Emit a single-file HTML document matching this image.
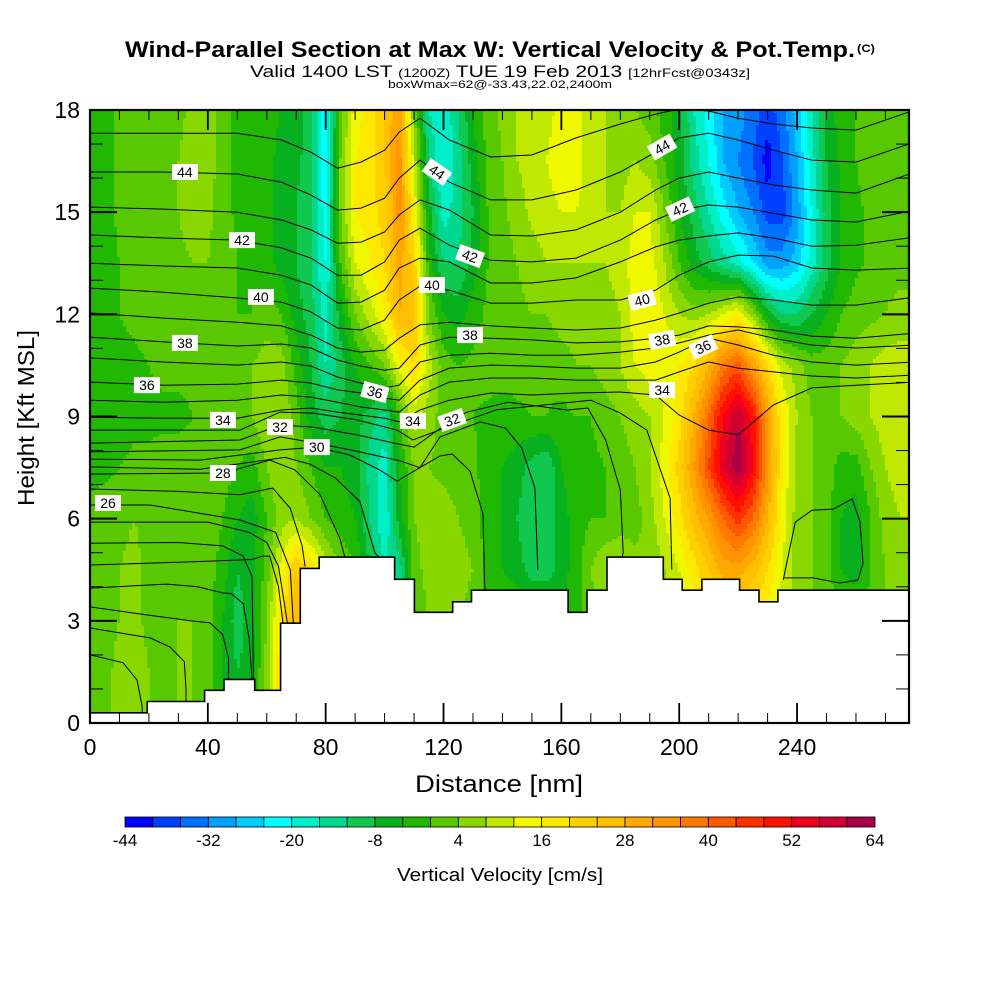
<!DOCTYPE html>
<html><head><meta charset="utf-8"><title>Wind-Parallel Section</title>
<style>html,body{margin:0;padding:0;background:#fff}svg{display:block}
text{font-family:"Liberation Sans",sans-serif}</style></head>
<body>
<svg id="chart" xmlns="http://www.w3.org/2000/svg" width="1000" height="1000" viewBox="0 0 1000 1000">
<rect x="0" y="0" width="1000" height="1000" fill="#fff"/>
<defs><clipPath id="plotclip"><rect x="90" y="110" width="819" height="613"/></clipPath></defs>
<g id="title-block">
<text x="125" y="57" font-size="22" font-weight="bold" textLength="730" lengthAdjust="spacingAndGlyphs">Wind-Parallel Section at Max W: Vertical Velocity &amp; Pot.Temp.</text>
<text x="857" y="52" font-size="11" font-weight="bold" textLength="18" lengthAdjust="spacingAndGlyphs">(C)</text>
<text x="250" y="77" font-size="17" textLength="500" lengthAdjust="spacingAndGlyphs">Valid 1400 LST <tspan font-size="12">(1200Z)</tspan> TUE 19 Feb 2013 <tspan font-size="12">[12hrFcst@0343z]</tspan></text>
<text x="388" y="88" font-size="11" textLength="224" lengthAdjust="spacingAndGlyphs">boxWmax=62@-33.43,22.02,2400m</text>
</g>
<g id="field" clip-path="url(#plotclip)"></g>
<g id="contours" clip-path="url(#plotclip)"></g>
<g id="terrain"></g>
<g id="clabels"></g>
<g id="axes"></g>
<g id="colorbar"></g>
<text x="499" y="792" font-size="24" text-anchor="middle" textLength="168" lengthAdjust="spacingAndGlyphs">Distance [nm]</text>
<text x="0" y="0" font-size="23" text-anchor="middle" transform="translate(34,418) rotate(-90)" textLength="176" lengthAdjust="spacingAndGlyphs">Height [Kft MSL]</text>
<text x="500" y="881" font-size="18" text-anchor="middle" textLength="206" lengthAdjust="spacingAndGlyphs">Vertical Velocity [cm/s]</text>
</svg>
<script>
// ---- data ----
const colNm = [0,5,10,15,20,25,30,35,40,45,50,55,60,65,70,75,80,85,90,95,100,105,110,115,120,125,130,135,140,145,150,155,160,165,170,175,180,185,190,195,200,205,210,215,220,225,230,235,240,245,250,255,260,265,270,275,280];
const rowKft = [0,1.5,3,4.5,6,7.5,9,10.5,12,13.5,15,16.5,18];
const w0 = [2,3,5,6,4, 3,4,4,2,-4, -8,-6,6,20,24, 20,10,4,0,-4, -8,-10,0,4,6, 4,2,0,0,0, 0,-2,-4,-2,2, 6,6,4,4,6, 10,14,18,20,20, 18,14,10,6,4, 2,0,0,2,4, 4,4];
const w1p5 = [2,3,5,6,4, 3,4,4,2,-4, -8,-6,6,20,24, 20,10,4,0,-4, -8,-10,0,4,6, 4,2,0,0,0, 0,-2,-4,-2,2, 6,6,4,4,6, 10,14,18,20,20, 18,14,10,6,4, 2,0,0,2,4, 4,4];
const w3 = [2,3,4,5,3, 3,4,4,2,-4, -10,-6,4,20,28, 20,10,4,0,-4, -8,-10,0,4,6, 4,2,0,0,0, 0,-2,-4,-2,2, 6,6,4,4,6, 10,14,18,20,20, 18,14,10,6,4, 2,0,0,2,4, 4,4];
const w4p5 = [2,3,4,5,3, 2,3,4,2,-2, -8,-6,2,14,24, 20,10,4,0,-8, -16,-14,2,6,8, 6,4,-2,-4,-6, -10,-10,-6,-2,4, 8,8,6,4,8, 12,18,24,30,30, 26,20,12,6,4, 2,-4,-6,0,4, 6,6];
const w6 = [1,2,3,4,3, 2,2,3,3,0, -4,-6,0,6,8, 4,0,-2,-4,-12, -20,-6,4,6,6, 4,2,-2,-4,-8, -12,-12,-6,-2,0, 0,2,2,6,12, 18,26,32,40,46, 40,28,14,6,4, 2,-4,-6,0,6, 8,8];
const w7p5 = [-1,-1,0,1,1, 2,2,2,1,2, 0,-2,4,8,4, 0,-4,-4,-6,-14, -18,-4,4,4,3, 2,1,-2,-4,-6, -10,-12,-4,-2,-1, 0,2,4,8,14, 22,32,44,56,63, 52,34,16,6,4, 2,-2,-2,4,8, 10,10];
const w9 = [-2,-2,-2,-1,-1, -1,-1,0,1,2, 3,4,8,8,2, -6,-10,-8,-6,-10, -14,0,10,6,2, 1,0,-1,-2,-1, 0,0,-1,0,0, 2,4,6,8,12, 18,28,40,52,60, 50,32,16,8,4, 4,4,6,8,10, 10,10];
const w10p5 = [-2,-2,-1,-1,0, 1,1,1,1,2, 2,4,6,6,-2, -8,-16,-10,-4,0, 4,14,20,10,2, 0,1,2,2,2, 2,1,2,4,4, 6,8,12,14,14, 16,20,28,38,42, 32,20,10,6,2, 2,4,6,8,10, 10,10];
const w12 = [-2,-2,0,1,2, 2,3,3,3,2, 0,0,2,0,-6, -10,-18,-6,4,10, 16,28,26,4,-4, -6,-2,1,2,3, 4,4,6,6,6, 6,8,14,16,12, 8,6,8,12,16, 6,-6,-12,-12,-8, -4,0,2,3,4, 6,6];
const w13p5 = [-2,-2,0,1,2, 3,3,4,4,2, 0,-1,-2,-6,-8, -12,-20,0,12,16, 20,30,22,-2,-12, -12,-6,0,2,4, 6,8,8,8,8, 8,10,14,14,8, 0,-6,-10,-14,-18, -24,-30,-30,-26,-18, -10,-4,-1,1,2, 2,2];
const w15 = [-3,-2,1,2,2, 3,4,6,5,2, -1,-2,-3,-6,-8, -12,-22,4,16,18, 22,34,16,-6,-18, -14,-8,0,3,6, 9,10,12,12,10, 8,8,12,12,4, -4,-10,-16,-22,-28, -32,-38,-38,-30,-20, -10,-4,-1,1,2, 2,2];
const w16p5 = [-3,-2,1,2,2, 3,4,6,6,2, -1,-2,-3,-5,-7, -10,-24,4,16,18, 24,34,10,-12,-20, -14,-6,1,4,8, 10,12,15,14,10, 8,6,8,6,0, -6,-14,-20,-28,-32, -36,-42,-36,-28,-18, -8,-3,0,2,2, 2,2];
const w18 = [-2,-2,1,2,2, 2,3,5,6,2, -1,-2,-3,-4,-6, -10,-24,2,14,18, 24,32,4,-16,-20, -12,-4,2,5,8, 8,10,14,14,10, 8,6,4,2,-2, -6,-16,-22,-28,-30, -34,-38,-34,-26,-16, -6,-2,0,2,3, 3,3];
const wRows = [w0,w1p5,w3,w4p5,w6,w7p5,w9,w10p5,w12,w13p5,w15,w16p5,w18];

const levelColors = ['#0000ff','#0040ff','#0070ff','#00a0ff','#00ccff','#00ffff','#00eec8','#00d890','#10c850','#08b020','#20b800','#58c800','#88d800','#c0e800','#f0f800','#ffe800','#ffd000','#ffc000','#ffa800','#ff9400','#ff7800','#ff5800','#ff3000','#ff1000','#f00020','#d00030','#a80048'];
const cbTicks = [-44,-32,-20,-8,4,16,28,40,52,64];
const xTicks = [0,40,80,120,160,200,240];
const yTicks = [0,3,6,9,12,15,18];

const terrX0 = [0,19.4,38.9,45.5,55.9,64.7,71.4,77.8,103.4,110.1,123.1,129.5,162.3,168.7,175.5,194.6,201,207.7,220.5,227.1,233.5];
const terrX1 = [19.4,38.9,45.5,55.9,64.7,71.4,77.8,103.4,110.1,123.1,129.5,162.3,168.7,175.5,194.6,201,207.7,220.5,227.1,233.5,278];
const terrH = [0.3,0.63,0.96,1.28,0.96,2.93,4.54,4.87,4.22,3.25,3.56,3.9,3.25,3.9,4.87,4.22,3.9,4.22,3.9,3.56,3.9];

const thetaS = [0,25,50,65,75,84,92,100,105,112,122,136,150,165,180,192,200,210,220,232,245,260,280];
const th45 = [17.32,17.32,17.32,17.12,16.76,16.29,16.47,16.82,17.35,17.76,17.12,16.62,16.68,17.18,17.59,17.88,18.03,17.97,17.76,17.59,17.47,17.41,18.0];
const th44 = [16.18,16.18,16.12,15.88,15.5,15.06,15.12,15.41,16.0,16.53,15.88,15.36,15.36,15.65,16.18,16.76,17.18,17.32,17.12,16.82,16.53,16.47,17.06];
const th43 = [15.15,15.09,15.0,14.77,14.48,14.09,14.12,14.42,14.92,15.36,15.06,14.33,14.3,14.48,15.0,15.65,16.0,16.18,16.0,15.8,15.65,15.56,16.18];
const th42 = [14.33,14.24,14.18,13.95,13.65,13.15,13.15,13.54,14.18,14.53,14.03,13.59,13.54,13.65,14.18,14.77,15.06,15.21,15.15,14.97,14.77,14.71,15.06];
const th41 = [13.5,13.42,13.36,13.15,12.86,12.33,12.36,12.71,13.36,13.65,13.54,12.92,12.92,13.07,13.54,13.98,14.18,14.3,14.39,14.24,14.0,14.03,14.27];
const th40 = [12.77,12.65,12.48,12.36,12.07,11.6,11.54,11.83,12.42,12.83,12.71,12.33,12.33,12.42,12.42,12.71,13.15,13.54,13.74,13.71,13.36,13.3,13.36];
const th39 = [12.04,11.89,11.77,11.66,11.39,11.01,10.89,10.95,11.3,11.69,11.77,11.66,11.6,11.54,11.6,11.83,12.04,12.33,12.51,12.42,12.27,12.27,12.51];
const th38 = [11.33,11.19,11.07,11.13,11.01,10.66,10.48,10.36,10.42,11.1,11.33,11.3,11.25,11.16,11.19,11.3,11.39,11.66,11.63,11.54,11.36,11.3,11.45];
const th37 = [10.72,10.6,10.51,10.6,10.48,10.16,9.98,9.84,9.92,10.6,10.8,10.86,10.8,10.8,10.89,11.01,11.16,11.39,11.54,11.3,11.1,11.01,11.1];
const th36 = [10.01,9.92,9.95,10.07,9.98,9.78,9.69,9.54,9.48,10.07,10.42,10.51,10.48,10.42,10.42,10.6,10.89,11.3,11.1,10.8,10.6,10.51,10.6];
const th35 = [9.48,9.42,9.48,9.63,9.57,9.42,9.28,9.19,9.13,9.63,10.01,10.13,10.13,10.07,10.07,10.07,10.31,10.6,10.42,10.31,10.19,10.13,10.22];
const th34 = [8.98,8.95,8.95,9.19,9.25,9.13,9.04,8.95,8.84,9.19,9.48,9.69,9.63,9.69,9.72,9.63,9.04,8.6,8.46,9.34,9.84,9.92,10.01];
const upperLines = [th45,th44,th43,th42,th41,th40,th39,th38,th37,th36,th35,th34];

const lo33 = [[0,8.6],[50.9,8.6],[64.5,9.13],[75.7,9.1],[90.6,8.9],[104.2,8.6],[109.6,8.31],[121.2,8.69],[138.1,9.2],[170,9.48],[180,9.1],[189,8.6],[196.9,6.6],[197.5,4.5]];
const lo32 = [[0,8.22],[50.9,8.31],[64.5,8.75],[75.7,8.69],[90.6,8.46],[104.2,8.2],[110,8.1],[122.9,8.9],[128,9.13],[142,9.42],[162,9.19],[169,9.25],[175,8.31],[180,6.85],[181,5.0],[178,3.9]];
const lo31 = [[0,7.96],[50.9,8.02],[64.5,8.4],[78.1,8.2],[91.6,7.96],[105.2,7.7],[112,7.5],[118.8,8.4],[132.5,8.84],[141,8.66],[146.5,8.08],[151,6.9],[152,4.5]];
const lo30 = [[0,7.75],[37.3,7.72],[64.5,8.02],[77,8.1],[88.2,7.87],[98.4,7.43],[104.2,7.1],[112,7.5],[118.8,7.84],[122.9,7.9],[129,7.4],[133.4,6.14],[134,3.9]];
const lo29 = [[0,7.52],[37.3,7.45],[66.2,7.8],[74.7,7.6],[83.2,7.2],[91.6,6.5],[96.7,5.0],[98,4.87]];
const lo28 = [[0,7.31],[45.1,7.34],[61.1,7.72],[69.6,7.43],[78.1,6.7],[84.9,5.4],[86.5,4.87]];
const lo27 = [[0,6.87],[30,6.8],[50.9,6.7],[62,6.9],[68,6.3],[72,5.2],[73,4.6]];
const lo26 = [[0,6.4],[20.4,6.4],[50.9,5.96],[63,5.6],[68,4.5],[69,2.93]];
const lo25 = [[0,5.9],[40,5.9],[54,5.6],[60,5.3],[64,4.6],[66,3.5],[67,2.93]];
const lo24 = [[0,5.28],[30,5.3],[45,5.2],[52,4.9],[55,4.3],[55.5,1.28]];
const lo23 = [[0,4.64],[34,4.73],[55,4.8],[58.5,4.9],[61,4.9],[64,4.0],[65.5,2.93]];
const lo22 = [[0,3.96],[26,4.08],[36.5,4.0],[45,3.82],[48,3.8],[52,3.5],[54,2.5],[55,1.3]];
const lo21 = [[0,3.41],[17,3.2],[34,3.0],[40.7,2.94],[45,2.6],[47,1.9],[47,1.28]];
const lo20 = [[0,2.79],[20.4,2.5],[27.2,2.23],[32,1.8],[32.6,1.0],[32.6,0.63]];
const lo19 = [[0,2.0],[11.2,1.77],[16,1.26],[17.7,0.5],[17.7,0.3]];
const bowlRight = [[235.3,4.2],[239.4,5.9],[245.1,6.25],[252.3,6.28],[258.7,6.58],[261.4,5.9],[262.4,4.7],[260.7,4.2],[254.6,4.11],[245.4,4.26],[235.6,4.26]];
const lowerLines = [lo33,lo32,lo31,lo30,lo29,lo28,lo27,lo26,lo25,lo24,lo23,lo22,lo21,lo20,lo19,bowlRight];

const labelText = ['44','44','44','42','42','42','40','40','40','38','38','38','36','36','36','34','34','34','32','32','30','28','26'];
const labelNm = [32.2,117.8,194.2,51.6,129,200.3,58,116.1,187.4,32.2,129,194.2,19.3,96.7,208.1,45.1,109.6,194.2,64.5,122.9,77,45.1,6.1];
const labelKft = [16.18,16.18,16.91,14.18,13.71,15.09,12.51,12.86,12.42,11.16,11.39,11.25,9.92,9.72,11.04,8.9,8.87,9.78,8.69,8.9,8.1,7.34,6.46];
const labelRot = [0,35,-30,0,20,-25,0,0,-15,0,0,-10,0,15,-25,0,0,0,0,-20,0,0,0];

// ---- scales ----
const X0=90,X1=909,Y0=723,Y1=110,XMAX=278,YMAX=18;
const xS = nm => X0 + nm*(X1-X0)/XMAX;
const yS = k => Y0 - k*(Y0-Y1)/YMAX;
const xInv = px => (px-X0)*XMAX/(X1-X0);
const yInv = py => (Y0-py)*YMAX/(Y0-Y1);
const NS='http://www.w3.org/2000/svg';
function mk(tag, attrs, parent){const e=document.createElementNS(NS,tag);for(const k in attrs)e.setAttribute(k,attrs[k]);parent.appendChild(e);return e;}

function wAt(nm,k){
  let i=0; while(i<colNm.length-2 && nm>colNm[i+1]) i++;
  let j=0; while(j<rowKft.length-2 && k>rowKft[j+1]) j++;
  let tx=(nm-colNm[i])/(colNm[i+1]-colNm[i]); tx=Math.max(0,Math.min(1,tx));
  let ty=(k-rowKft[j])/(rowKft[j+1]-rowKft[j]); ty=Math.max(0,Math.min(1,ty));
  const a=wRows[j][i],b=wRows[j][i+1],c=wRows[j+1][i],d=wRows[j+1][i+1];
  return (a*(1-tx)+b*tx)*(1-ty)+(c*(1-tx)+d*tx)*ty;
}
function colorIdx(w){let idx=Math.floor((w+44)/4);return Math.max(0,Math.min(levelColors.length-1,idx));}

// ---- field ----
const field=document.getElementById('field');
const step=3;
for(let py=Y1;py<Y0;py+=step){
  const k=yInv(py+step/2);
  let runStart=X0, runIdx=null;
  for(let px=X0;px<=X1;px+=step){
    const idx = px<X1 ? colorIdx(wAt(xInv(px+step/2),k)) : -1;
    if(runIdx===null){runIdx=idx;runStart=px;continue;}
    if(idx!==runIdx){
      const r=mk('rect',{x:runStart,y:py,width:px-runStart+0.6,height:step+0.6,fill:levelColors[runIdx]},field);
      
      
      runIdx=idx;runStart=px;
    }
  }
}

// ---- contours ----
const cg=document.getElementById('contours');
upperLines.forEach(line=>{
  const d=line.map((k,i)=>(i?'L':'M')+xS(thetaS[i]).toFixed(1)+','+yS(k).toFixed(1)).join(' ');
  const p=mk('path',{d:d,fill:'none',stroke:'#000','stroke-width':1},cg);
  
  
});
lowerLines.forEach(line=>{
  const d=line.map((pt,i)=>(i?'L':'M')+xS(pt[0]).toFixed(1)+','+yS(pt[1]).toFixed(1)).join(' ');
  const p=mk('path',{d:d,fill:'none',stroke:'#000','stroke-width':1},cg);
  
  
});

// ---- terrain ----
const tg=document.getElementById('terrain');
let td='M'+xS(0)+','+yS(0);
for(let i=0;i<terrH.length;i++){td+=' L'+xS(terrX0[i]).toFixed(1)+','+yS(terrH[i]).toFixed(1)+' L'+xS(terrX1[i]).toFixed(1)+','+yS(terrH[i]).toFixed(1);}
td+=' L'+xS(XMAX)+','+yS(0)+' Z';
const tp=mk('path',{d:td,fill:'#fff',stroke:'#000','stroke-width':1.6,'stroke-linejoin':'miter'},tg);



// ---- contour labels ----
const lg=document.getElementById('clabels');
labelText.forEach((t,i)=>{
  const cx=xS(labelNm[i]), cy=yS(labelKft[i]);
  const g=mk('g',{transform:'translate('+cx.toFixed(1)+','+cy.toFixed(1)+') rotate('+labelRot[i]+')'},lg);
  
  
  mk('rect',{x:-13,y:-8,width:26,height:16,fill:'#fff'},g);
  const tx=mk('text',{x:0,y:5,'font-size':14,'text-anchor':'middle','font-family':'"Liberation Serif",serif'},g);
  tx.textContent=t;
});

// ---- axes ----
const ag=document.getElementById('axes');
const frame=mk('rect',{x:X0,y:Y1,width:X1-X0,height:Y0-Y1,fill:'none',stroke:'#000','stroke-width':2.2},ag);


for(let nm=0;nm<=XMAX;nm+=10){
  const major = nm%40===0; const L = major?20:10; const x=xS(nm);
  const t1=mk('line',{x1:x,y1:Y0,x2:x,y2:Y0-L,stroke:'#000','stroke-width':major?1.8:1},ag);
  
  
  const t2=mk('line',{x1:x,y1:Y1,x2:x,y2:Y1+L,stroke:'#000','stroke-width':major?1.8:1},ag);
  
  
}
for(let k=0;k<=YMAX;k+=1){
  const major = k%3===0; const L = major?27:13; const y=yS(k);
  const t1=mk('line',{x1:X0,y1:y,x2:X0+L,y2:y,stroke:'#000','stroke-width':major?2:1},ag);
  
  
  const t2=mk('line',{x1:X1,y1:y,x2:X1-L,y2:y,stroke:'#000','stroke-width':major?2:1},ag);
  
  
}
xTicks.forEach(v=>{
  const t=mk('text',{x:xS(v),y:755,'font-size':23,'text-anchor':'middle'},ag);
  
  
  t.textContent=v;
});
yTicks.forEach(v=>{
  const t=mk('text',{x:80,y:yS(v)+8,'font-size':23,'text-anchor':'end'},ag);
  
  
  t.textContent=v;
});

// ---- colorbar ----
const cbg=document.getElementById('colorbar');
const CB0=125, CB1=875, CBY=817, CBH=10;
const cbMin=-44, cbMax=64;
const cbX = v => CB0 + (v-cbMin)*(CB1-CB0)/(cbMax-cbMin);
levelColors.forEach((c,i)=>{
  const lo=cbMin+i*4;
  const r=mk('rect',{x:cbX(lo),y:CBY,width:cbX(lo+4)-cbX(lo),height:CBH,fill:c,stroke:'#000','stroke-width':0.8},cbg);
  
  
});
cbTicks.forEach(v=>{
  const t=mk('text',{x:cbX(v),y:846,'font-size':17,'text-anchor':'middle'},cbg);
  
  
  t.textContent=v;
});
</script>
</body></html>
